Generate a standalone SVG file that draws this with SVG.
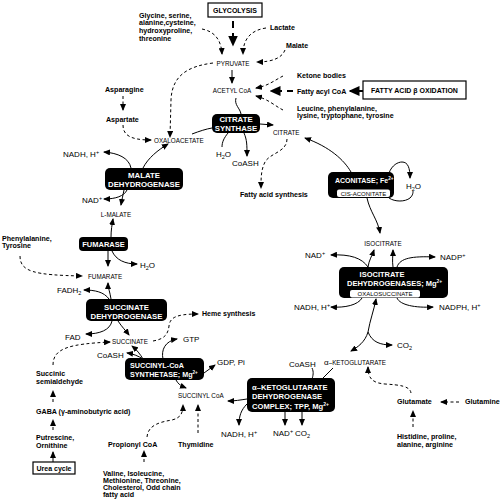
<svg xmlns="http://www.w3.org/2000/svg" width="500" height="500" viewBox="0 0 500 500">
<style>
text{font-family:"Liberation Sans",Arial,sans-serif;fill:#000}
.b{font-weight:bold;font-size:7.1px}
.m{font-size:6.3px}
.c{font-size:8px}
.e{font-weight:bold;font-size:7.8px;fill:#fff}
.pl{font-size:6px;fill:#000}
.k{fill:#000}
.w{fill:#fff}
.bx{fill:#fff;stroke:#000;stroke-width:1.2}
#connectors path{fill:none;stroke:#000;stroke-width:1}
#connectors .d{stroke-dasharray:3 2.5}
#connectors .s{marker-end:url(#a)}
#connectors .t{stroke-width:2;stroke-dasharray:7 5;marker-end:url(#ab)}
</style>
<defs>
<marker id="a" markerWidth="7" markerHeight="6" refX="6" refY="3" orient="auto" markerUnits="userSpaceOnUse"><path d="M0,0L7,3L0,6z"/></marker>
<marker id="ab" markerWidth="11" markerHeight="10" refX="9.5" refY="5" orient="auto" markerUnits="userSpaceOnUse"><path d="M0,0L11,5L0,10z"/></marker>
</defs>
<rect width="500" height="500" fill="#fff"/>

<g id="connectors">
<path class="t" d="M233,21V45"/>
<path class="d s" d="M202,29C212,31 221,37 222,54"/>
<path class="d s" d="M266,28C252,30 243,38 243,54"/>
<path class="d s" d="M285,50C282,58 272,62 257,62"/>
<path class="s" d="M232,70V83"/>
<path class="d s" d="M283,76C275,80 268,86 256,88"/>
<path class="d s" d="M283,110C275,106 268,99 256,96"/>
<path class="t" style="stroke-dasharray:6 5" d="M293,91H271"/>
<path class="t" style="stroke-dasharray:none" d="M363,91H350"/>
<path class="d s" d="M213,63C190,66 172,74 171,100L170,137"/>
<path class="d s" d="M123,96V110"/>
<path class="d s" d="M123,125C123,135 130,140 151,140"/>
<path d="M236,98C234,105 240,108 241,114"/>
<path d="M192,134C200,131 206,129 212,128"/>
<path class="s" d="M260,124L273,125"/>
<path d="M228,133C224,138 222,142 222,147"/>
<path class="s" d="M244,133C247,140 247,145 247,156"/>
<path class="d s" d="M287,139C287,152 270,153 265,162C261,170 261,178 261,188"/>
<path class="s" d="M351,172C344,160 330,147 305,138"/>
<path class="s" d="M389,173C392,165 398,162 402,162C408,162 410,168 410,178"/>
<path d="M389,198C395,202 405,202 410,198C413,195 413,193 413,191"/>
<path class="s" d="M367,198C370,212 378,220 380,233"/>
<path class="s" d="M368,267C362,258 350,254 331,255"/>
<path class="s" d="M368,267C369,260 372,256 374,250"/>
<path class="s" d="M393,267C392,260 393,256 393,250"/>
<path class="s" d="M397,267C400,258 412,256 435,257"/>
<path class="s" d="M362,298C358,305 345,308 331,307"/>
<path class="s" d="M397,298C400,305 415,308 433,307"/>
<path class="s" d="M368,332C370,320 374,310 376,299"/>
<path class="s" d="M368,332C365,342 358,347 351,351"/>
<path class="s" d="M368,332C372,342 380,345 392,345"/>
<path d="M312,368C314,372 313,376 312,379"/>
<path d="M333,368L322,379"/>
<path class="s" d="M247,399C240,400 235,401 228,401"/>
<path class="s" d="M247,404C241,410 239,416 239,425"/>
<path class="s" d="M285,412V425"/>
<path class="s" d="M302,412V425"/>
<path class="d s" d="M411,393C410,386 400,385 385,384C372,383 368,378 368,367"/>
<path class="d s" d="M459,402H441"/>
<path class="d s" d="M413,427V411"/>
<path class="s" d="M131,168C129,158 118,153 104,152"/>
<path class="s" d="M143,168C148,158 158,150 168,144"/>
<path class="s" d="M127,190C124,196 116,199 104,199"/>
<path class="s" d="M124,190C123,195 122,199 121,205"/>
<path class="s" d="M111,237C111,230 112,225 113,219"/>
<path class="s" d="M108,251V266"/>
<path class="s" d="M112,251C116,260 125,264 137,264"/>
<path class="d s" d="M20,256C20,272 35,275 82,276"/>
<path class="s" d="M111,299C110,292 108,288 108,283"/>
<path class="s" d="M109,299C104,292 95,290 84,290"/>
<path class="s" d="M112,321C110,330 100,334 86,334"/>
<path class="s" d="M118,321C122,327 126,331 129,335"/>
<path class="d s" d="M53,365C53,348 70,344 110,342"/>
<path class="d s" d="M153,341C165,339 168,334 169,326C170,318 175,314 198,314"/>
<path class="s" d="M163,359C161,350 165,341 177,339"/>
<path class="s" d="M143,359C138,356 134,354 127,353"/>
<path class="s" d="M143,359C140,354 137,350 132,346"/>
<path class="s" d="M204,373L215,365"/>
<path class="s" d="M176,380C178,384 181,386 186,388"/>
<path class="d s" d="M198,433V405"/>
<path class="d s" d="M147,437C148,425 160,422 172,420C180,418 183,414 183,405"/>
<path class="d s" d="M144,462V451"/>
<path class="d s" d="M53,402V391"/>
<path class="d s" d="M53,430V420"/>
<path class="s" d="M53,462V452"/>
</g>

<g id="glycolysis"><rect class="bx" x="208" y="3" width="54" height="14"/><text class="b" x="235" y="13" text-anchor="middle" style="font-size:7px">GLYCOLYSIS</text></g>
<g id="glycine"><text class="b" x="139" y="17.5">Glycine, serine,<tspan x="139" dy="7.7">alanine,cysteine,</tspan><tspan x="139" dy="7.7">hydroxyproline,</tspan><tspan x="139" dy="7.7">threonine</tspan></text></g>
<g id="lactate"><text class="b" x="270" y="30">Lactate</text></g>
<g id="malate-in"><text class="b" x="286" y="47.5">Malate</text></g>
<g id="pyruvate"><text class="m" x="233" y="65.5" text-anchor="middle">PYRUVATE</text></g>
<g id="acetylcoa"><text class="m" x="232" y="92.5" text-anchor="middle">ACETYL CoA</text></g>
<g id="ketone"><text class="b" x="297" y="78">Ketone bodies</text></g>
<g id="fattyacyl"><text class="b" x="297" y="93.5">Fatty acyl CoA</text></g>
<g id="leucine"><text class="b" x="297" y="110.5">Leucine, phenylalanine,<tspan x="297" dy="7.7">lysine, tryptophane, tyrosine</tspan></text></g>
<g id="betaox"><rect class="bx" x="363" y="81" width="103" height="18"/><text class="b" x="414.5" y="93" text-anchor="middle" style="font-size:7px">FATTY ACID β OXIDATION</text></g>
<g id="asparagine"><text class="b" x="105" y="91.5">Asparagine</text></g>
<g id="aspartate"><text class="b" x="106" y="121.5">Aspartate</text></g>
<g id="oaa"><text class="m" x="154" y="142.5">OXALOACETATE</text></g>
<g id="citrate-synthase"><rect class="k" x="212" y="114" width="48" height="19" rx="5"/><text class="e" x="236" y="122" text-anchor="middle">CITRATE<tspan x="236" dy="9">SYNTHASE</tspan></text></g>
<g id="h2o-cs"><text class="c" x="216" y="157">H<tspan dy="2" font-size="5.5">2</tspan><tspan dy="-2">O</tspan></text></g>
<g id="coash-cs"><text class="c" x="232" y="166">CoASH</text></g>
<g id="citrate"><text class="m" x="273" y="134.5">CITRATE</text></g>
<g id="fas"><text class="b" x="240" y="197">Fatty acid synthesis</text></g>
<g id="aconitase"><rect class="k" x="328" y="172" width="66" height="26" rx="5"/><text class="e" x="335" y="183" style="font-size:7px">ACONITASE; Fe<tspan dy="-3" font-size="4.6">2+</tspan></text><rect class="w" x="337" y="189.5" width="53" height="7.5" rx="2"/><text class="pl" x="363.5" y="195.5" text-anchor="middle">CIS-ACONITATE</text></g>
<g id="h2o-acon"><text class="c" x="406" y="188.5">H<tspan dy="2" font-size="5.5">2</tspan><tspan dy="-2">O</tspan></text></g>
<g id="isocitrate"><text class="m" x="383" y="245.5" text-anchor="middle">ISOCITRATE</text></g>
<g id="nad-idh"><text class="c" x="305" y="258">NAD<tspan dy="-3" font-size="5.5">+</tspan></text></g>
<g id="nadp"><text class="c" x="440" y="260">NADP<tspan dy="-3" font-size="5.5">+</tspan></text></g>
<g id="idh"><rect class="k" x="339" y="267" width="109" height="31" rx="5"/><text class="e" x="382" y="276.5" text-anchor="middle" style="font-size:7.5px">ISOCITRATE</text><text class="e" x="347" y="285.5" style="font-size:7.5px">DEHYDROGENASES; Mg<tspan dy="-3" font-size="5">2+</tspan></text><rect class="w" x="350" y="290" width="70" height="7.5" rx="2"/><text class="pl" x="385" y="296" text-anchor="middle">OXALOSUCCINATE</text></g>
<g id="nadh-idh"><text class="c" x="294" y="310">NADH, H<tspan dy="-3" font-size="5.5">+</tspan></text></g>
<g id="nadph"><text class="c" x="439" y="310">NADPH, H<tspan dy="-3" font-size="5.5">+</tspan></text></g>
<g id="co2-idh"><text class="c" x="397" y="348">CO<tspan dy="2" font-size="5.5">2</tspan></text></g>
<g id="akg"><text x="324" y="364.5"><tspan font-size="8">α</tspan><tspan class="m">–KETOGLUTARATE</tspan></text></g>
<g id="coash-kg"><text class="c" x="289" y="367">CoASH</text></g>
<g id="akgdh"><rect class="k" x="247" y="378" width="88" height="34" rx="5"/><text class="e" x="252" y="389.5" style="font-size:7.6px">α–KETOGLUTARATE<tspan x="252" dy="9.5">DEHYDROGENASE</tspan><tspan x="252" dy="9.5">COMPLEX; TPP, Mg</tspan><tspan dy="-3" font-size="5">2+</tspan></text></g>
<g id="nadh-kg"><text class="c" x="221" y="437">NADH, H<tspan dy="-3" font-size="5.5">+</tspan></text></g>
<g id="nad-kg"><text class="c" x="273" y="436">NAD<tspan dy="-3" font-size="5.5">+</tspan></text></g>
<g id="co2-kg"><text class="c" x="295" y="436">CO<tspan dy="2" font-size="5.5">2</tspan></text></g>
<g id="glutamate"><text class="b" x="397" y="404">Glutamate</text></g>
<g id="glutamine"><text class="b" x="465" y="404">Glutamine</text></g>
<g id="histidine"><text class="b" x="397" y="439">Histidine, proline,<tspan x="397" dy="7.7">alanine, arginine</tspan></text></g>
<g id="mdh"><rect class="k" x="105" y="168" width="78" height="22" rx="5"/><text class="e" x="144" y="177.5" text-anchor="middle">MALATE<tspan x="144" dy="9">DEHYDROGENASE</tspan></text></g>
<g id="nadh-mdh"><text class="c" x="63" y="157">NADH, H<tspan dy="-3" font-size="5.5">+</tspan></text></g>
<g id="nad-mdh"><text class="c" x="82" y="202.5">NAD<tspan dy="-3" font-size="5.5">+</tspan></text></g>
<g id="lmalate"><text class="m" x="116" y="216.5" text-anchor="middle">L-MALATE</text></g>
<g id="fumarase"><rect class="k" x="79" y="237" width="49" height="14" rx="4"/><text class="e" x="103.5" y="246.8" text-anchor="middle" style="font-size:7.5px">FUMARASE</text></g>
<g id="h2o-fum"><text class="c" x="140" y="267.5">H<tspan dy="2" font-size="5.5">2</tspan><tspan dy="-2">O</tspan></text></g>
<g id="phenylalanine"><text class="b" x="2" y="240.5">Phenylalanine,<tspan x="2" dy="7.7">Tyrosine</tspan></text></g>
<g id="fumarate"><text class="m" x="88" y="279">FUMARATE</text></g>
<g id="sdh"><rect class="k" x="86" y="299" width="81" height="22" rx="5"/><text class="e" x="126.5" y="309.5" text-anchor="middle">SUCCINATE<tspan x="126.5" dy="9">DEHYDROGENASE</tspan></text></g>
<g id="fadh2"><text class="c" x="57" y="292.5">FADH<tspan dy="2" font-size="5.5">2</tspan></text></g>
<g id="fad"><text class="c" x="65" y="339.5">FAD</text></g>
<g id="succinate"><text class="m" x="112" y="343.5">SUCCINATE</text></g>
<g id="heme"><text class="b" x="202" y="316" style="font-size:7px">Heme synthesis</text></g>
<g id="scs"><rect class="k" x="125" y="358" width="79" height="22" rx="5"/><text class="e" x="130" y="368" style="font-size:7.2px">SUCCINYL-CoA<tspan x="130" dy="8.7">SYNTHETASE; Mg</tspan><tspan dy="-3" font-size="4.6">2+</tspan></text></g>
<g id="gtp"><text class="c" x="183" y="341.5">GTP</text></g>
<g id="coash-scs"><text class="c" x="97" y="357.5">CoASH</text></g>
<g id="gdp"><text class="c" x="217" y="364.5">GDP, Pi</text></g>
<g id="succinylcoa"><text class="m" x="178" y="397.5">SUCCINYL CoA</text></g>
<g id="thymidine"><text class="b" x="178" y="446.5">Thymidine</text></g>
<g id="propionyl"><text class="b" x="108" y="446.5">Propionyl CoA</text></g>
<g id="valine"><text class="b" x="103" y="475.5">Valine, Isoleucine,<tspan x="103" dy="7.3">Methionine, Threonine,</tspan><tspan x="103" dy="7.3">Cholesterol, Odd chain</tspan><tspan x="103" dy="7.3">fatty acid</tspan></text></g>
<g id="semialdehyde"><text class="b" x="36" y="375.5">Succinic<tspan x="36" dy="8">semialdehyde</tspan></text></g>
<g id="gaba"><text class="b" x="36" y="413.5">GABA (γ-aminobutyric acid)</text></g>
<g id="putrescine"><text class="b" x="36" y="439.5">Putrescine,<tspan x="36" dy="8">Ornithine</tspan></text></g>
<g id="urea"><rect class="bx" x="33" y="462" width="42" height="12"/><text class="b" x="54" y="470.8" text-anchor="middle" style="font-size:7px">Urea cycle</text></g>
</svg>
